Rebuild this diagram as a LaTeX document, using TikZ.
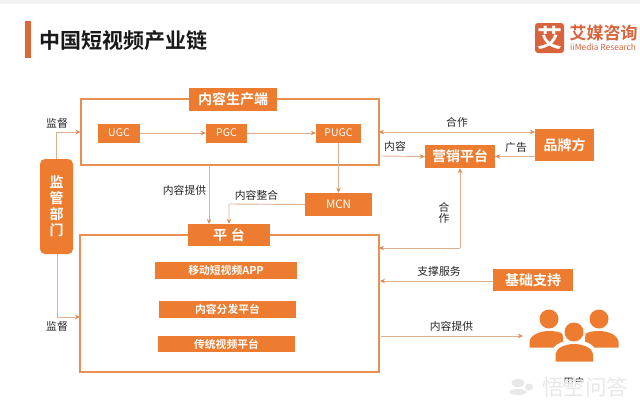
\documentclass[tikz,border=0pt]{standalone}
\usepackage{fontspec}
\setmainfont{Noto Sans CJK SC}[BoldFont={Noto Sans CJK SC Bold}]
\usetikzlibrary{arrows.meta,calc}
\definecolor{org}{HTML}{ED7B30}
\definecolor{ln}{HTML}{E0B092}
\definecolor{frm}{HTML}{E98F52}
\definecolor{tip}{HTML}{DE8A52}
\definecolor{brand}{HTML}{D9633B}
\tikzset{
  boxn/.style={fill=org,text=white,inner sep=0pt,font=\bfseries\fontsize{#1}{#1}\selectfont},
  thinb/.style={fill=org,text=white,inner sep=0pt,font=\fontsize{#1}{#1}\selectfont},
  framen/.style={draw=frm,line width=1.3pt,inner sep=0pt},
  lbl/.style={text=black!85,inner sep=0pt,font=\fontsize{10.8}{10.8}\selectfont},
  conn/.style={draw=ln,line width=0.9pt,-{Stealth[length=5pt,width=4.5pt,color=tip]}},
  connb/.style={draw=ln,line width=0.9pt,{Stealth[length=5pt,width=4.5pt,color=tip]}-{Stealth[length=5pt,width=4.5pt,color=tip]}},
}
\begin{document}
\begin{tikzpicture}[x=1pt,y=-1pt]
\useasboundingbox (0,0) rectangle (640,408);
\fill[white] (0,0) rectangle (640,408);
\fill[black!5] (0,0) rectangle (640,4);
% title
\fill[brand!90!orange] (25,21) rectangle (30.5,58);
\node[inner sep=0pt,anchor=west,font=\bfseries\fontsize{21}{21}\selectfont,text=black!90] (title) at (39.5,41) {中国短视频产业链};
% logo
\node[fill=brand,rounded corners=3pt,minimum width=29pt,minimum height=30pt,inner sep=0pt,text=white,font=\bfseries\fontsize{25}{25}\selectfont] (logo) at (549.5,38) {艾};
\node[inner sep=0pt,anchor=west,text=brand,font=\bfseries\fontsize{17}{15}\selectfont] (logoa) at (569.5,33) {艾媒咨询};
\node[inner sep=0pt,anchor=west,text=brand,font=\fontsize{8.4}{8.4}\selectfont] (logob) at (570,47.5) {iiMedia Research};
% frames
\node[framen,minimum width=298pt,minimum height=66pt] (prod) at (230,132) {};
\node[framen,minimum width=299pt,minimum height=137pt] (plat) at (229.5,303.5) {};
% boxes
\node[boxn=14,minimum width=88pt,minimum height=23pt] (prodt) at (233,99.5) {内容生产端};
\node[thinb=10.5,minimum width=42pt,minimum height=19pt] (ugc) at (119,133) {UGC};
\node[thinb=10.5,minimum width=41pt,minimum height=19pt] (pgc) at (226.5,133) {PGC};
\node[thinb=10.5,minimum width=45pt,minimum height=19pt] (pugc) at (338.5,133) {PUGC};
\node[thinb=11.5,minimum width=67pt,minimum height=23pt] (mcn) at (338.5,204.5) {MCN};
\node[boxn=14,minimum width=82pt,minimum height=22pt] (platt) at (229,235) {平\hspace{4pt}台};
\node[boxn=10.8,minimum width=142pt,minimum height=17pt] (i1) at (226,270.5) {移动短视频APP};
\node[boxn=10.8,minimum width=137pt,minimum height=17pt] (i2) at (227.5,309.5) {内容分发平台};
\node[boxn=10.8,minimum width=137pt,minimum height=16pt] (i3) at (226.5,344) {传统视频平台};
\node[boxn=14,fill=org,minimum width=33pt,minimum height=95pt,rounded corners=5pt,align=center] (gov) at (56.5,206.5) {监\\[2pt]管\\[2pt]部\\[2pt]门};
\node[boxn=14,minimum width=70pt,minimum height=23pt] (mkt) at (460,156.5) {营销平台};
\node[boxn=14,minimum width=59pt,minimum height=32pt] (brandn) at (564.5,145) {品牌方};
\node[boxn=14,minimum width=80pt,minimum height=22pt] (base) at (533,280) {基础支持};
% free-end coordinates
\coordinate (g1) at (56,132);
\coordinate (g2) at (57,317);
\coordinate (a1) at (209,165);
\coordinate (a2) at (209,224);
\coordinate (b1) at (229,204);
\coordinate (c1) at (381,156);
\coordinate (d1) at (379,132);
\coordinate (d2) at (535,132);
\coordinate (e1) at (460,248);
\coordinate (e2) at (379,248);
\coordinate (f1) at (380,281);
\coordinate (h1) at (381,336);
\coordinate (h2) at (523,336);
\coordinate (g3) at (80.5,132);
\coordinate (g4) at (80,317);
% connectors
\draw[conn] (gov.north -| g1) -- (g1) -- (g3);
\draw[conn] (gov.south -| g2) -- (g2) -- (g4);
\draw[conn] (ugc) -- (pgc);
\draw[conn] (pgc) -- (pugc);
\draw[conn] (pugc) -- (mcn);
\draw[conn] (a1) -- (a2);
\draw[conn] (mcn.west) -- (b1) -- (platt.north);
\draw[connb] (d1) -- (d2);
\draw[conn] (c1) -- (mkt.west);
\draw[conn] (brandn.west |- mkt) -- (mkt.east);
\draw[conn] (e1) -- (mkt.south);
\draw[conn] (e1) -- (e2);
\draw[conn] (base.west |- f1) -- (f1);
\draw[conn] (h1) -- (h2);
% labels
\node[lbl] (l1) at (57,123) {监督};
\node[lbl] (l2) at (57,326) {监督};
\node[lbl] (l3) at (184.5,190) {内容提供};
\node[lbl] (l4) at (256.5,195) {内容整合};
\node[lbl] (l5) at (457,122.5) {合作};
\node[lbl] (l6) at (395,146.5) {内容};
\node[lbl] (l7) at (516,147) {广告};
\node[lbl,align=center] (l8) at (444,213) {合\\[0pt]作};
\node[lbl] (l9) at (439,271) {支撑服务};
\node[lbl] (l10) at (451.5,326) {内容提供};
% users
\fill[org] (549,319) circle (9.5);
\fill[org] (599,319) circle (9.5);
\fill[org] (529.5,347.5) -- (529.5,342) .. controls (530,335) and (540,331) .. (549,331) .. controls (555,331) and (560,332) .. (563,334) -- (563,347.5) -- cycle;
\fill[org] (618.5,347.5) -- (618.5,342) .. controls (618,335) and (608,331) .. (599,331) .. controls (593,331) and (588,332) .. (585,334) -- (585,347.5) -- cycle;
\fill[white] (574,332) circle (12);
\fill[white] (552,364) -- (552,352) .. controls (553,344) and (564,340) .. (574,340) .. controls (584,340) and (595,344) .. (596,352) -- (596,364) -- cycle;
\fill[org] (574,332) circle (9.5);
\fill[org] (555.5,361.5) -- (555.5,354) .. controls (556,348) and (565,344) .. (574,344) .. controls (583,344) and (592.5,348) .. (593,354) -- (593,361.5) -- cycle;
\node[lbl] (user) at (574,382) {用户};
% watermark
\fill[white,opacity=0.8] (555,381.5) rectangle (595,397);
\node[inner sep=0pt,text=black!9,font=\fontsize{21.5}{21.5}\selectfont] (wm) at (585,387) {悟空问答};
\fill[black!9] (518,383) ellipse (6.5 and 4);
\fill[black!9] (518,392) ellipse (8.5 and 3);
\fill[black!9] (529,387) ellipse (4 and 3.5);
\end{tikzpicture}
\end{document}
